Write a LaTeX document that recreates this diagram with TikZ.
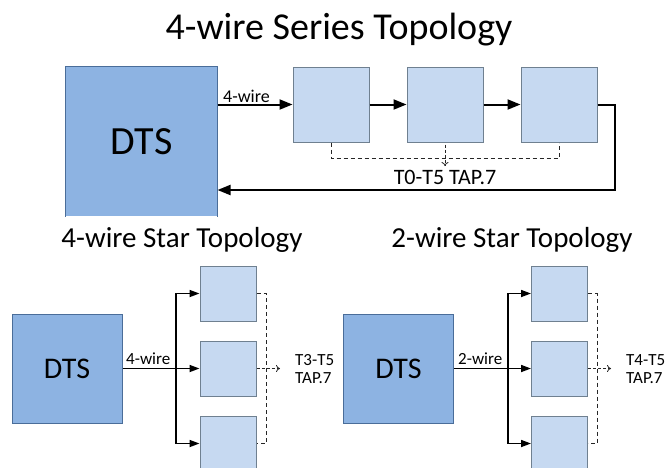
\documentclass[tikz,border=0pt]{standalone}
\usepackage{fontspec}
\setmainfont{Carlito}
\usetikzlibrary{arrows.meta}
\definecolor{dtsfill}{HTML}{8DB3E2}
\definecolor{dtsline}{HTML}{4A6D99}
\definecolor{boxfill}{HTML}{C6D9F1}
\definecolor{boxline}{HTML}{6F8090}
\begin{document}
\begin{tikzpicture}[x=1pt,y=-1pt,
  dtsbox/.style={fill=dtsfill, draw=dtsline, line width=1pt, inner sep=0pt},
  tbox/.style={fill=boxfill, draw=boxline, line width=1pt, inner sep=0pt},
  bigarrow/.style={line width=2pt, -{Triangle[length=13pt,width=10pt]}},
  busarrow/.style={line width=1.6pt, -{Triangle[length=10pt,width=7pt]}},
  tap/.style={dash pattern=on 4pt off 3pt, line width=0.8pt, draw=black!85},
  tapend/.style={line width=0.8pt, draw=black!85, dash pattern=on 3pt off 2pt, -{To[length=4pt,width=7pt]}},
  lbl/.style={inner sep=0pt, anchor=base},
  lblw/.style={inner sep=0pt, anchor=base west}
]
\useasboundingbox (0,0) rectangle (669,467);
\clip (0,0) rectangle (669,467);

% ---------- title ----------
\node[lbl, font=\fontsize{38}{46}\selectfont] (title) at (339,39) {4-wire Series Topology};

% ---------- series topology ----------
\node[dtsbox, draw=none, minimum width=151pt, minimum height=149pt,
      font=\fontsize{40}{48}\selectfont] (sdts) at (141.5,141.5) {DTS};
\draw[dtsline, line width=1pt] (sdts.south west) -- (sdts.north west) -- (sdts.north east) -- (sdts.south east);

\node[tbox, minimum width=76pt, minimum height=75pt] (s1) at (331,104.5) {};
\node[tbox, minimum width=76pt, minimum height=75pt] (s2) at (445,104.5) {};
\node[tbox, minimum width=76pt, minimum height=75pt] (s3) at (559,104.5) {};

\draw[bigarrow] (sdts.east |- s1.west) -- (s1.west);
\node[lblw, font=\fontsize{18}{22}\selectfont] (slab) at (223,102) {4-wire};
\draw[bigarrow] (s1) -- (s2);
\draw[bigarrow] (s2) -- (s3);
\coordinate (ret) at (615,190);
\draw[bigarrow] (s3.east) -| (ret) -- (sdts.east |- ret);

\coordinate (tapy) at (0,158);
\coordinate (tapend) at (445,166);
\draw[tap] (s1.south) -- (s1.south |- tapy) -| (s3.south);
\draw[tapend] ([yshift=-2pt]s2.south) -- (tapend);
\node[lbl, font=\fontsize{22}{26}\selectfont] (stap) at (445,184) {T0-T5 TAP.7};

% ---------- 4-wire star ----------
\node[lbl, font=\fontsize{29}{35}\selectfont] (ltitle) at (182,247) {4-wire Star Topology};
\node[dtsbox, minimum width=110pt, minimum height=109pt,
      font=\fontsize{30}{36}\selectfont] (ldts) at (67,368.5) {DTS};
\node[tbox, minimum width=56pt, minimum height=55pt] (l1) at (228,293.5) {};
\node[tbox, minimum width=56pt, minimum height=55pt] (l2) at (228,368.5) {};
\node[tbox, minimum width=56pt, minimum height=55pt] (l3) at (228,443.5) {};
\coordinate (ltrunk) at (176,368.5);
\draw[busarrow] (ldts) -- (l2);
\draw[busarrow] (ltrunk |- l3) -- (ltrunk |- l1) -- (l1);
\draw[busarrow] (ltrunk |- l1) -- (ltrunk |- l3) -- (l3);
\node[lblw, font=\fontsize{17}{20}\selectfont] (llab) at (126,364) {4-wire};
\coordinate (ldash) at (266,0);
\draw[tap] (l1.east) -- (l1.east -| ldash) -- (l3.east -| ldash) -- (l3.east);
\coordinate (lend) at (280,368.5);
\draw[tapend] (l2.east) -- (lend);
\node[lblw, font=\fontsize{17}{20}\selectfont] (lt1) at (295,365) {T3-T5};
\node[lblw, font=\fontsize{17}{20}\selectfont] (lt2) at (295,383) {TAP.7};

% ---------- 2-wire star ----------
\node[lbl, font=\fontsize{29}{35}\selectfont] (rtitle) at (512,247) {2-wire Star Topology};
\node[dtsbox, minimum width=110pt, minimum height=109pt,
      font=\fontsize{30}{36}\selectfont] (rdts) at (398.5,368.5) {DTS};
\node[tbox, minimum width=56pt, minimum height=55pt] (r1) at (559.5,293.5) {};
\node[tbox, minimum width=56pt, minimum height=55pt] (r2) at (559.5,368.5) {};
\node[tbox, minimum width=56pt, minimum height=55pt] (r3) at (559.5,443.5) {};
\coordinate (rtrunk) at (508,368.5);
\draw[busarrow] (rdts) -- (r2);
\draw[busarrow] (rtrunk |- r3) -- (rtrunk |- r1) -- (r1);
\draw[busarrow] (rtrunk |- r1) -- (rtrunk |- r3) -- (r3);
\node[lblw, font=\fontsize{17}{20}\selectfont] (rlab) at (458,364) {2-wire};
\coordinate (rdash) at (597,0);
\draw[tap] (r1.east) -- (r1.east -| rdash) -- (r3.east -| rdash) -- (r3.east);
\coordinate (rend) at (611,368.5);
\draw[tapend] (r2.east) -- (rend);
\node[lblw, font=\fontsize{17}{20}\selectfont] (rt1) at (626,365) {T4-T5};
\node[lblw, font=\fontsize{17}{20}\selectfont] (rt2) at (626,383) {TAP.7};
\end{tikzpicture}
\end{document}
